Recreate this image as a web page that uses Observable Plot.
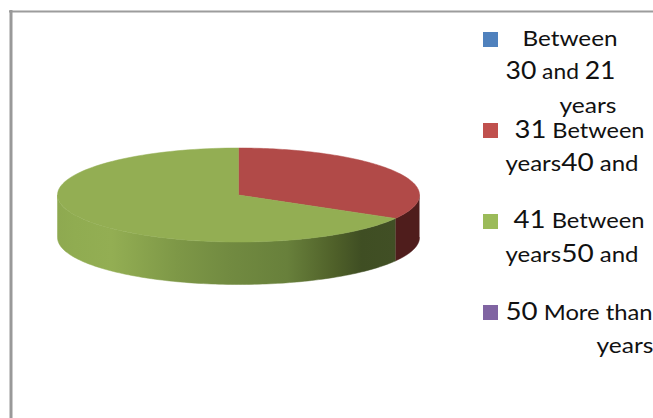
<!DOCTYPE html>
<html>
<head>
<meta charset="utf-8">
<script src="https://cdn.jsdelivr.net/npm/d3@7"></script>
<script src="https://cdn.jsdelivr.net/npm/@observablehq/plot@0.6"></script>
<style>html,body{margin:0;padding:0;background:#fff}svg{display:block}</style>
</head>
<body>
<div id="chart"></div>
<script>
// Data
const categories = ["Between 21 and 30 years", "Between 31 and 40 years", "Between 41 and 50 years", "More than 50 years"];
const values = [0, 33.3, 66.7, 0];
const swatchColors = ["#4f81bd", "#c0504d", "#9bbb59", "#8064a2"];
const topColors = ["#4a76ad", "#b14a48", "#93ae53", "#75598f"];
const sideColors = ["#26405c", "#4f1d1c", "#93ae53", "#3f2f52"];
const legendLines = ["Between", "30 and 21", "years", "31 Between", "years40 and", "41 Between", "years50 and", "50 More than", "years"];

// Layout
const W = 653, H = 418;
const pie3d = {cx: 238, cy: 194.5, rx: 181, ry: 47, depth: 42.5};
const legendLeft = [522, 505, 559, 514, 505, 513, 505, 505, 596];
const legendRight = [617, 615, 616, 644, 638, 644, 638, 652, 653];
const legendBase = [45.5, 78.5, 112, 137.5, 170, 227.5, 261, 319.5, 352.5];
const swatchTop = [32, 123, 214, 305];
const swatchX = 483, swatchSize = 15;

const arcs = d3.pie().sort(null).startAngle(0).endAngle(2 * Math.PI)(values);
const px = a => pie3d.cx + pie3d.rx * Math.sin(a);
const py = a => pie3d.cy - pie3d.ry * Math.cos(a);
const steps = (a, b) => d3.range(0, 121).map(i => a + (b - a) * i / 120);

const faces = arcs.filter(d => d.endAngle > d.startAngle).map(d => {
  const pts = [{x: pie3d.cx, y: pie3d.cy}];
  for (const a of steps(d.startAngle, d.endAngle)) pts.push({x: px(a), y: py(a)});
  pts.push({x: pie3d.cx, y: pie3d.cy});
  return {i: d.index, pts};
});
const walls = arcs.map(d => {
  const a0 = Math.max(d.startAngle, Math.PI / 2), a1 = Math.min(d.endAngle, 3 * Math.PI / 2);
  if (a1 <= a0) return null;
  const arc = steps(a0, a1);
  const pts = arc.map(a => ({x: px(a), y: py(a)}))
    .concat(arc.slice().reverse().map(a => ({x: px(a), y: py(a) + pie3d.depth})));
  return {i: d.index, pts};
}).filter(Boolean);

const gradient = () => {
  const defs = d3.create("svg:defs");
  const g = defs.append("linearGradient").attr("id", "wallShade").attr("gradientUnits", "userSpaceOnUse")
    .attr("x1", 57).attr("x2", 395).attr("y1", 0).attr("y2", 0);
  [[0, "#8ea950"], [0.05, "#90ac51"], [0.16, "#93ae53"], [0.35, "#7e9847"], [0.5, "#728b41"],
   [0.68, "#68803b"], [0.82, "#4f6029"], [0.9, "#3f4e23"], [1, "#414f25"]]
    .forEach(([o, c]) => g.append("stop").attr("offset", o).attr("stop-color", c));
  return defs.node();
};

const legendData = legendLines.map((t, i) => ({t, x: legendLeft[i], y: legendBase[i]}));
const swatchData = swatchTop.map((y, i) => ({y1: y, y2: y + swatchSize, c: swatchColors[i]}));

const chart = Plot.plot({
  width: W, height: H,
  marginTop: 0, marginRight: 0, marginBottom: 0, marginLeft: 0,
  x: {domain: [0, W], range: [0, W], axis: null},
  y: {domain: [0, H], range: [0, H], axis: null},
  style: {background: "#fff", fontFamily: "Lato, sans-serif"},
  marks: [
    gradient,
    Plot.ruleY([11], {x1: 9, x2: W, stroke: "#9c9c9c", strokeWidth: 2}),
    Plot.ruleX([10.5], {y1: 10, y2: H, stroke: "#999", strokeWidth: 3}),
    ...walls.map(w => Plot.line(w.pts, {x: "x", y: "y",
      fill: w.i === 2 ? "url(#wallShade)" : sideColors[w.i],
      stroke: w.i === 2 ? "url(#wallShade)" : sideColors[w.i], strokeWidth: 0.5})),
    ...faces.map(f => Plot.line(f.pts, {x: "x", y: "y", fill: topColors[f.i], stroke: topColors[f.i], strokeWidth: 0.5})),
    Plot.rect(swatchData, {x1: swatchX, x2: swatchX + swatchSize, y1: "y1", y2: "y2", fill: "c"}),
    Plot.text(legendData, {x: "x", y: "y", text: "t", textAnchor: "start", lineAnchor: "bottom",
      fontSize: 21, fill: "#111", fontFamily: "Lato, sans-serif"})
  ]
});
document.getElementById("chart").appendChild(chart);

// Digits in the legend are set larger than the words, each line is fitted to its width
d3.select(chart).selectAll("text").each(function () {
  const el = d3.select(this);
  const s = el.text();
  const y = +el.attr("y");
  el.text(null);
  for (const part of s.match(/\d+|\D+/g)) {
    const t = el.append("tspan").text(part);
    if (/\d/.test(part)) t.attr("font-size", 24.5);
  }
  const tr = (el.attr("transform") || "").match(/translate\(([-\d.]+),([-\d.]+)\)/);
  const yy = tr ? +tr[2] : y;
  let k = legendData.findIndex(d => d.t === s && Math.abs(yy - d.y) < 1);
  if (k < 0) k = legendLines.indexOf(s);
  el.attr("textLength", legendRight[k] - legendLeft[k]).attr("lengthAdjust", "spacingAndGlyphs");
});
</script>
</body>
</html>
